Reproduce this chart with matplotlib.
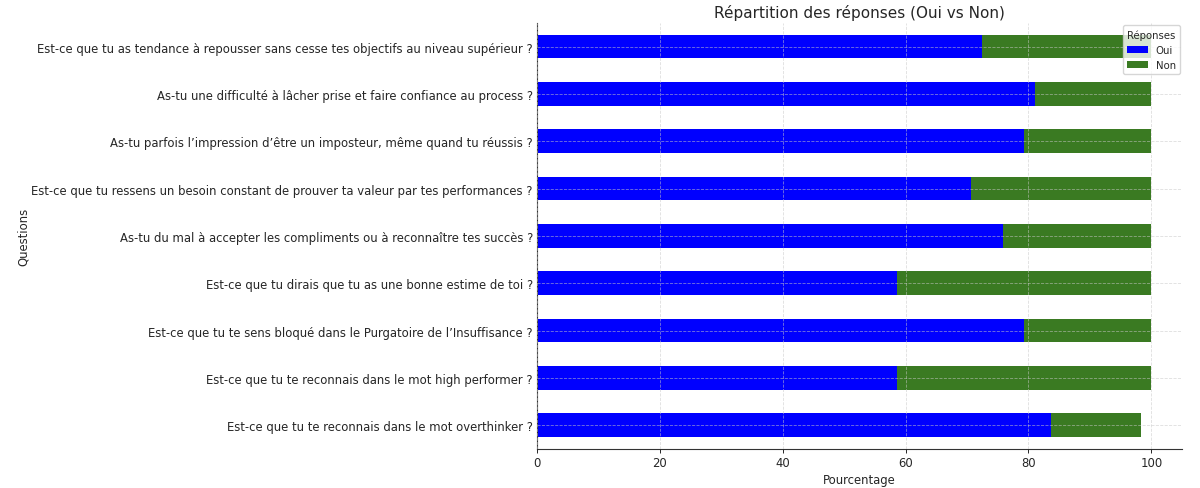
import matplotlib
matplotlib.use("Agg")
import matplotlib.pyplot as plt
import numpy as np

questions = [
    "Est-ce que tu as tendance à repousser sans cesse tes objectifs au niveau supérieur ?",
    "As-tu une difficulté à lâcher prise et faire confiance au process ?",
    "As-tu parfois l’impression d’être un imposteur, même quand tu réussis ?",
    "Est-ce que tu ressens un besoin constant de prouver ta valeur par tes performances ?",
    "As-tu du mal à accepter les compliments ou à reconnaître tes succès ?",
    "Est-ce que tu dirais que tu as une bonne estime de toi ?",
    "Est-ce que tu te sens bloqué dans le Purgatoire de l’Insuffisance ?",
    "Est-ce que tu te reconnais dans le mot high performer ?",
    "Est-ce que tu te reconnais dans le mot overthinker ?",
]
oui = [72.4, 81.0, 79.3, 70.7, 75.9, 58.6, 79.3, 58.6, 83.7]
non = [27.6, 19.0, 20.7, 29.3, 24.1, 41.4, 20.7, 41.4, 14.6]

text_color = "#262626"
plt.rcParams["font.family"] = ["DejaVu Sans"]
plt.rcParams["text.color"] = text_color
plt.rcParams["axes.labelcolor"] = text_color
plt.rcParams["xtick.color"] = text_color
plt.rcParams["ytick.color"] = text_color

fig = plt.figure(figsize=(12, 4.89), dpi=100)
ax = fig.add_axes([0.4475, 0.080, 0.5375, 0.871])

y = np.arange(len(questions))[::-1]
ax.barh(y, oui, height=0.5, color="#0000ff", label="Oui", zorder=2)
ax.barh(y, non, left=oui, height=0.5, color="#3a7a22", label="Non", zorder=2)

ax.set_yticks(y)
ax.set_yticklabels(questions, fontsize=8.35)
ax.set_ylim(-0.5, len(questions) - 0.5)
ax.set_xlim(0, 105)
ax.set_xticks([0, 20, 40, 60, 80, 100])
ax.tick_params(axis="x", labelsize=8.35, length=3, width=0.7, pad=2)
ax.tick_params(axis="y", length=0, pad=3)
ax.set_xlabel("Pourcentage", fontsize=8.35, labelpad=3)
ax.set_ylabel("Questions", fontsize=8.35, labelpad=1)
ax.set_title("Répartition des réponses (Oui vs Non)", fontsize=11, pad=4)

ax.grid(True, linestyle="--", linewidth=0.6, color="#c8c8c8", alpha=0.6, zorder=3)
ax.set_axisbelow(False)
for s in ["top", "right"]:
    ax.spines[s].set_visible(False)
for s in ["left", "bottom"]:
    ax.spines[s].set_linewidth(0.8)
    ax.spines[s].set_color("#333333")

leg = ax.legend(title="Réponses", fontsize=7.3, title_fontsize=7.3, loc="upper right",
                borderaxespad=0.2, handlelength=2.0, framealpha=0.8)

fig.savefig("out.png", dpi=100)
